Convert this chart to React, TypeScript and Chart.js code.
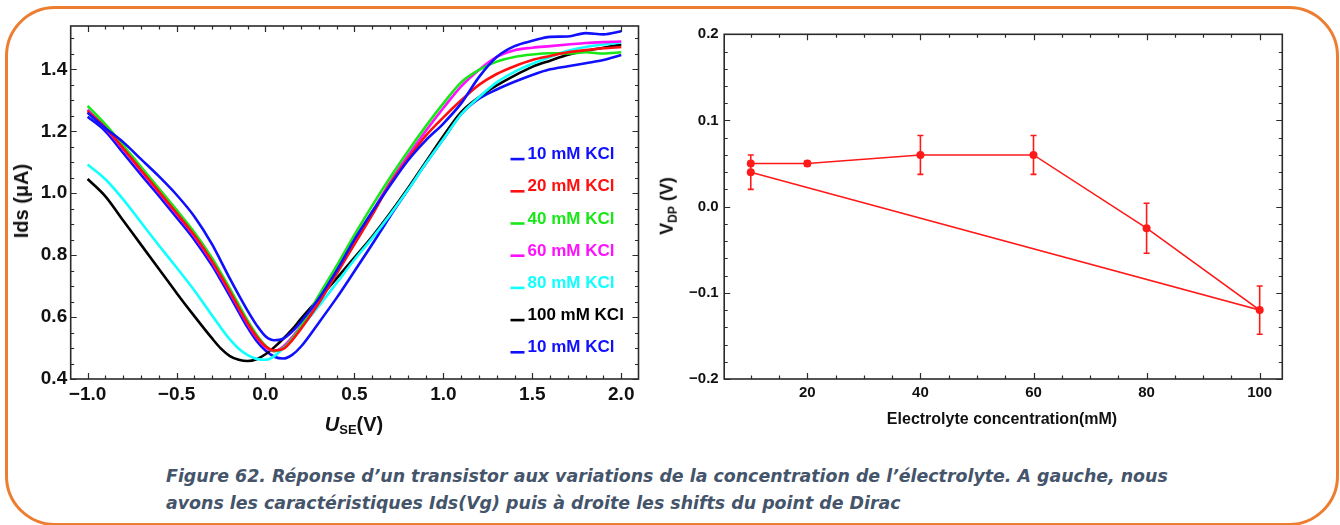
import React, { useEffect, useRef } from "react";
import { Chart, registerables } from "chart.js";

Chart.register(...registerables);

// ---------- Left chart data: Ids (µA) vs U_SE (V) ----------
const USE_X = [
  -1.0, -0.9, -0.8, -0.7, -0.6, -0.5, -0.4, -0.3, -0.25, -0.2, -0.15, -0.1, -0.05, 0.0,
  0.05, 0.1, 0.15, 0.2, 0.3, 0.4, 0.5, 0.6, 0.7, 0.8, 0.9, 1.0, 1.1, 1.2, 1.3, 1.4, 1.5,
  1.6, 1.7, 1.8, 1.9, 2.0,
];
const IDS_10MM_A = [
  1.26, 1.21, 1.165, 1.11, 1.055, 0.995, 0.925, 0.835, 0.78, 0.724, 0.671, 0.62, 0.574, 0.538,
  0.525, 0.53, 0.553, 0.585, 0.66, 0.75, 0.85, 0.94, 1.025, 1.105, 1.17, 1.225, 1.29, 1.375, 1.44, 1.475, 1.492,
  1.505, 1.506, 1.517, 1.513, 1.523,
];
const IDS_20MM = [
  1.265, 1.212, 1.145, 1.075, 1.006, 0.936, 0.864, 0.78, 0.732, 0.682, 0.63, 0.58, 0.537, 0.506,
  0.492, 0.497, 0.525, 0.562, 0.645, 0.74, 0.835, 0.93, 1.03, 1.11, 1.185, 1.245, 1.3, 1.35, 1.385, 1.41, 1.43,
  1.443, 1.455, 1.462, 1.468, 1.472,
];
const IDS_40MM = [
  1.282, 1.222, 1.155, 1.085, 1.016, 0.946, 0.874, 0.79, 0.742, 0.692, 0.64, 0.588, 0.543, 0.508,
  0.49, 0.5, 0.53, 0.57, 0.67, 0.765, 0.865, 0.96, 1.05, 1.135, 1.215, 1.29, 1.358, 1.398, 1.425, 1.44, 1.448,
  1.452, 1.451, 1.455, 1.451, 1.455,
];
const IDS_60MM = [
  1.27, 1.21, 1.142, 1.072, 1.003, 0.933, 0.861, 0.777, 0.729, 0.679, 0.627, 0.577, 0.534, 0.503,
  0.49, 0.505, 0.535, 0.572, 0.655, 0.75, 0.845, 0.94, 1.035, 1.12, 1.2, 1.275, 1.345, 1.398, 1.44, 1.462, 1.47,
  1.475, 1.48, 1.485, 1.488, 1.49,
];
const IDS_80MM = [
  1.093, 1.045, 0.98, 0.906, 0.832, 0.76, 0.686, 0.605, 0.565, 0.528, 0.498, 0.477, 0.465, 0.462,
  0.474, 0.5, 0.532, 0.566, 0.636, 0.71, 0.785, 0.855, 0.93, 1.01, 1.095, 1.175, 1.255, 1.31, 1.358, 1.392, 1.418,
  1.44, 1.46, 1.472, 1.48, 1.487,
];
const IDS_100MM = [
  1.046, 0.99, 0.912, 0.834, 0.756, 0.678, 0.603, 0.531, 0.498, 0.474, 0.462, 0.458, 0.464, 0.48,
  0.503, 0.53, 0.56, 0.595, 0.66, 0.725, 0.792, 0.86, 0.935, 1.015, 1.1, 1.185, 1.262, 1.31, 1.348, 1.38, 1.408,
  1.428, 1.447, 1.46, 1.47, 1.48,
];
const IDS_10MM_B = [
  1.247, 1.2, 1.13, 1.06, 0.992, 0.922, 0.85, 0.766, 0.718, 0.668, 0.616, 0.566, 0.523, 0.492,
  0.472, 0.466, 0.478, 0.505, 0.582, 0.662, 0.748, 0.835, 0.925, 1.01, 1.095, 1.175, 1.255, 1.305, 1.335, 1.36, 1.382,
  1.4, 1.41, 1.42, 1.43, 1.446,
];
const SERIES_LABELS = ["10 mM KCl", "20 mM KCl", "40 mM KCl", "60 mM KCl", "80 mM KCl", "100 mM KCl", "10 mM KCl"];
const SERIES_VALUES = [IDS_10MM_A, IDS_20MM, IDS_40MM, IDS_60MM, IDS_80MM, IDS_100MM, IDS_10MM_B];
const SERIES_COLORS = ["#1010ff", "#ff1010", "#18e818", "#ff10ff", "#10ffff", "#000000", "#1010ff"];
const LEFT_X_TICKS = [-1.0, -0.5, 0.0, 0.5, 1.0, 1.5, 2.0];
const LEFT_Y_TICKS = [0.4, 0.6, 0.8, 1.0, 1.2, 1.4];

// ---------- Right chart data: V_DP vs concentration ----------
const CONC_MM = [10, 20, 40, 60, 80, 100, 10];
const VDP_V = [0.05, 0.05, 0.06, 0.06, -0.025, -0.12, 0.04];
const VDP_ERR = [0.01, 0.003, 0.0225, 0.0225, 0.029, 0.028, 0.02];
const RIGHT_X_TICKS = [20, 40, 60, 80, 100];
const RIGHT_Y_TICKS = [-0.2, -0.1, 0.0, 0.1, 0.2];

const FONT = "'Liberation Sans', Arial, sans-serif";
const fmt1 = (v: number) => (v < -1e-9 ? "\u2212" + Math.abs(v).toFixed(1) : Math.abs(v).toFixed(1));

const frameTicksPlugin = {
  id: "frameTicks",
  afterDraw(chart: any, _args: any, opts: any) {
    const { ctx, chartArea: a, scales } = chart;
    const xs = scales.x;
    const ys = scales.y;
    const minors = (scale: any, step: number) => {
      const out: number[] = [];
      const start = Math.ceil(scale.min / step - 1e-6);
      for (let k = start; k * step <= scale.max + 1e-6; k++) out.push(k * step);
      return out;
    };
    const isMajor = (scale: any, v: number) => scale.ticks.some((t: any) => Math.abs(t.value - v) < 1e-6);
    ctx.save();
    ctx.strokeStyle = "#2a2a2a";
    ctx.lineWidth = 1.2;
    ctx.beginPath();
    for (const v of minors(xs, opts.xMinor)) {
      const len = isMajor(xs, v) ? 6 : 3.5;
      const p = Math.round(xs.getPixelForValue(v)) + 0.5;
      ctx.moveTo(p, a.bottom);
      ctx.lineTo(p, a.bottom - len);
      ctx.moveTo(p, a.top);
      ctx.lineTo(p, a.top + len);
    }
    for (const v of minors(ys, opts.yMinor)) {
      const len = isMajor(ys, v) ? 6 : 3.5;
      const p = Math.round(ys.getPixelForValue(v)) + 0.5;
      ctx.moveTo(a.left, p);
      ctx.lineTo(a.left + len, p);
      ctx.moveTo(a.right, p);
      ctx.lineTo(a.right - len, p);
    }
    ctx.stroke();
    ctx.lineWidth = 1.6;
    ctx.strokeRect(a.left, a.top, a.right - a.left, a.bottom - a.top);
    ctx.restore();
  },
};

const insideLegendPlugin = {
  id: "insideLegend",
  afterDraw(chart: any, _args: any, opts: any) {
    if (!opts || !opts.show) return;
    const { ctx } = chart;
    ctx.save();
    ctx.font = `bold 17px ${FONT}`;
    ctx.textBaseline = "alphabetic";
    ctx.textAlign = "left";
    chart.data.datasets.forEach((ds: any, i: number) => {
      const cy = opts.top + i * opts.step;
      ctx.fillStyle = ds.borderColor;
      ctx.fillRect(opts.dashX, cy + 4.8, 14, 2.6);
      ctx.fillText(ds.label, opts.textX, cy + 6.2);
    });
    ctx.restore();
  },
};

const errorBarsPlugin = {
  id: "errorBars",
  afterDatasetsDraw(chart: any, _args: any, opts: any) {
    if (!opts || !opts.errors) return;
    const { ctx, scales } = chart;
    const xs = scales.x;
    const ys = scales.y;
    ctx.save();
    ctx.strokeStyle = opts.color;
    ctx.lineWidth = 1.6;
    ctx.beginPath();
    chart.data.datasets[0].data.forEach((pt: any, i: number) => {
      const e = opts.errors[i];
      const px = xs.getPixelForValue(pt.x);
      const y1 = ys.getPixelForValue(pt.y + e);
      const y2 = ys.getPixelForValue(pt.y - e);
      ctx.moveTo(px, y1);
      ctx.lineTo(px, y2);
      ctx.moveTo(px - 3, y1);
      ctx.lineTo(px + 3, y1);
      ctx.moveTo(px - 3, y2);
      ctx.lineTo(px + 3, y2);
    });
    ctx.stroke();
    ctx.restore();
  },
};

function LeftChart() {
  const ref = useRef<HTMLCanvasElement | null>(null);
  useEffect(() => {
    const chart = new Chart(ref.current as HTMLCanvasElement, {
      type: "scatter",
      data: {
        datasets: SERIES_VALUES.map((vals, si) => ({
          label: SERIES_LABELS[si],
          data: USE_X.map((x, i) => ({ x, y: vals[i] })),
          showLine: true,
          borderColor: SERIES_COLORS[si],
          backgroundColor: SERIES_COLORS[si],
          borderWidth: 2.6,
          pointRadius: 0,
          cubicInterpolationMode: "monotone" as const,
        })),
      },
      options: {
        animation: false,
        responsive: false,
        devicePixelRatio: 1,
        layout: { padding: { top: 26, right: 21.5, left: 0, bottom: 0 } },
        plugins: {
          legend: { display: false },
          tooltip: { enabled: false },
          frameTicks: { xMinor: 0.1, yMinor: 0.05 },
          insideLegend: { show: true, top: 153, step: 32.2, dashX: 510.5, textX: 527.5 },
        } as any,
        scales: {
          x: {
            type: "linear",
            min: -1.095,
            max: 2.097,
            grid: { display: false, drawTicks: false },
            border: { display: false },
            afterBuildTicks: (s: any) => {
              s.ticks = LEFT_X_TICKS.map((v) => ({ value: v }));
            },
            afterFit: (s: any) => {
              s.height = 81;
            },
            ticks: {
              padding: 4,
              color: "#111",
              font: { family: FONT, size: 19, weight: "bold" },
              callback: (v: any) => fmt1(Number(v)),
              maxRotation: 0,
            },
          },
          y: {
            type: "linear",
            min: 0.4,
            max: 1.54,
            grid: { display: false, drawTicks: false },
            border: { display: false },
            afterBuildTicks: (s: any) => {
              s.ticks = LEFT_Y_TICKS.map((v) => ({ value: v }));
            },
            afterFit: (s: any) => {
              s.width = 70.7;
            },
            ticks: {
              padding: 3.5,
              color: "#111",
              font: { family: FONT, size: 19, weight: "bold" },
              callback: (v: any) => fmt1(Number(v)),
            },
          },
        },
      },
      plugins: [frameTicksPlugin, insideLegendPlugin],
    } as any);
    return () => chart.destroy();
  }, []);
  return <canvas ref={ref} width={660} height={460} style={{ position: "absolute", left: 0, top: 0 }} />;
}

function RightChart() {
  const ref = useRef<HTMLCanvasElement | null>(null);
  useEffect(() => {
    const chart = new Chart(ref.current as HTMLCanvasElement, {
      type: "scatter",
      data: {
        datasets: [
          {
            label: "V_DP",
            data: CONC_MM.map((c, i) => ({ x: c, y: VDP_V[i] })),
            showLine: true,
            borderColor: "#ff1a1a",
            backgroundColor: "#ff1a1a",
            borderWidth: 1.6,
            pointRadius: 4,
            pointBorderWidth: 0,
          },
        ],
      },
      options: {
        animation: false,
        responsive: false,
        devicePixelRatio: 1,
        layout: { padding: { top: 34.3, right: 57.7, left: 0, bottom: 0 } },
        plugins: {
          legend: { display: false },
          tooltip: { enabled: false },
          frameTicks: { xMinor: 5, yMinor: 0.02 },
          errorBars: { errors: VDP_ERR, color: "#ff1a1a" },
        } as any,
        scales: {
          x: {
            type: "linear",
            min: 5.3,
            max: 104,
            grid: { display: false, drawTicks: false },
            border: { display: false },
            afterBuildTicks: (s: any) => {
              s.ticks = RIGHT_X_TICKS.map((v) => ({ value: v }));
            },
            afterFit: (s: any) => {
              s.height = 81;
            },
            ticks: {
              padding: 5,
              color: "#111",
              font: { family: FONT, size: 15, weight: "bold" },
              callback: (v: any) => String(v),
              maxRotation: 0,
            },
          },
          y: {
            type: "linear",
            min: -0.2,
            max: 0.2,
            grid: { display: false, drawTicks: false },
            border: { display: false },
            afterBuildTicks: (s: any) => {
              s.ticks = RIGHT_Y_TICKS.map((v) => ({ value: v }));
            },
            afterFit: (s: any) => {
              s.width = 64.2;
            },
            ticks: {
              padding: 5.5,
              color: "#111",
              font: { family: FONT, size: 15, weight: "bold" },
              callback: (v: any) => fmt1(Number(v)),
            },
          },
        },
      },
      plugins: [frameTicksPlugin, errorBarsPlugin],
    } as any);
    return () => chart.destroy();
  }, []);
  return <canvas ref={ref} width={680} height={460} style={{ position: "absolute", left: 660, top: 0 }} />;
}

const centered = (cx: number, cy: number, rotate: boolean): React.CSSProperties => ({
  position: "absolute",
  left: cx,
  top: cy,
  transform: `translate(-50%, -50%)${rotate ? " rotate(-90deg)" : ""}`,
  whiteSpace: "nowrap",
  lineHeight: 1,
  fontFamily: FONT,
  fontWeight: 700,
  color: "#111",
});

export default function App() {
  return (
    <div
      style={{
        position: "fixed",
        left: 0,
        top: 0,
        width: 1340,
        height: 525,
        background: "#ffffff",
        overflow: "hidden",
      }}
    >
      <div
        style={{
          position: "absolute",
          left: 5,
          top: 6,
          width: 1334,
          height: 520,
          boxSizing: "border-box",
          border: "3px solid #ED7D31",
          borderRadius: 50,
        }}
      />
      <LeftChart />
      <RightChart />
      <div style={{ ...centered(21, 201, true), fontSize: 20 }}>Ids (μA)</div>
      <div style={{ ...centered(354, 425, false), fontSize: 20 }}>
        <span style={{ fontStyle: "italic" }}>U</span>
        <span style={{ fontSize: 13, verticalAlign: "-0.3em" }}>SE</span>(V)
      </div>
      <div style={{ ...centered(668, 206, true), fontSize: 18 }}>
        V<span style={{ fontSize: 12, verticalAlign: "-0.3em" }}>DP</span> (V)
      </div>
      <div style={{ ...centered(1002, 419, false), fontSize: 16 }}>Electrolyte concentration(mM)</div>
      <div
        style={{
          position: "absolute",
          left: 166,
          top: 463,
          fontFamily: "'DejaVu Sans', sans-serif",
          fontStyle: "oblique",
          fontWeight: 700,
          fontSize: 17.4,
          lineHeight: "27px",
          color: "#44546A",
          whiteSpace: "nowrap",
        }}
      >
        Figure 62. Réponse d’un transistor aux variations de la concentration de l’électrolyte. A gauche, nous
        <br />
        avons les caractéristiques Ids(Vg) puis à droite les shifts du point de Dirac
      </div>
    </div>
  );
}
